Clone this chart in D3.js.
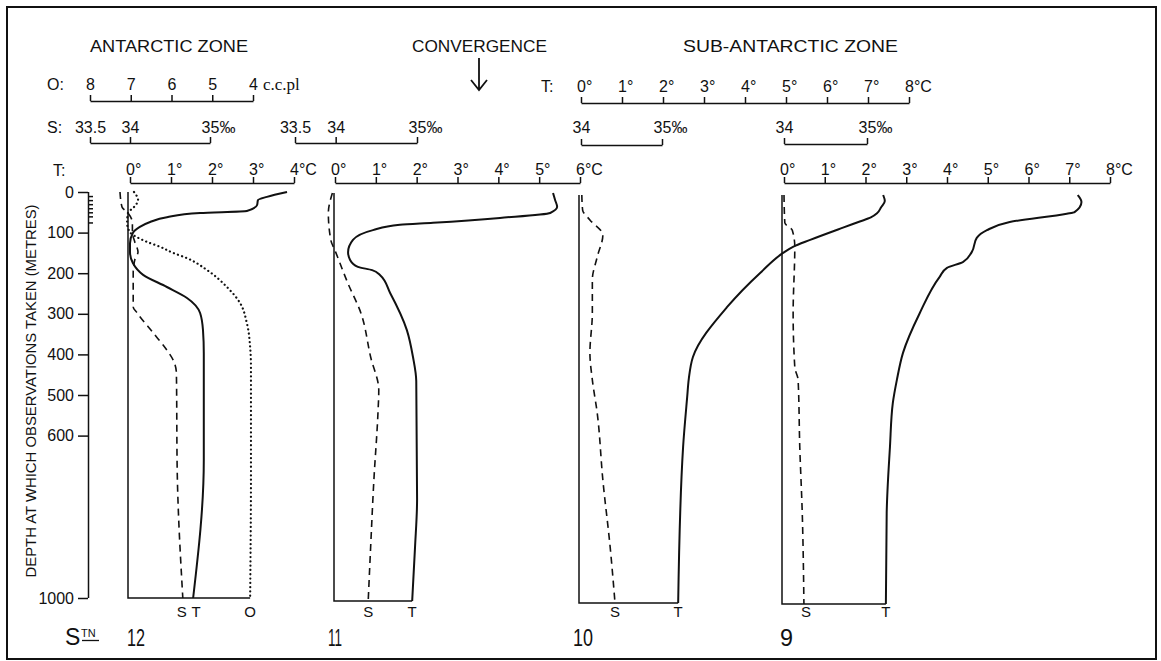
<!DOCTYPE html>
<html><head><meta charset="utf-8">
<script src="https://cdn.jsdelivr.net/npm/d3@7"></script>
<style>
body{margin:0;background:#fff;}
svg{display:block;font-family:"Liberation Sans",Arial,sans-serif;}
.ax path,.ax line{stroke:#111;stroke-width:1.5;fill:none;}
.ax text{font-size:16px;fill:#111;font-family:"Liberation Sans",Arial,sans-serif;}
text{fill:#111;}
</style></head><body>
<svg id="c" width="1161" height="661"></svg>
<script>
// ---------------- DATA ----------------
const stations = ["12", "11", "10", "9"];
const depthTicks = [0, 100, 200, 300, 400, 500, 600, 1000];
const depthMinorTicks = [10, 20, 30, 40, 50, 60, 75];
const oxygenTicks = [8, 7, 6, 5, 4];
const salTicksWide = [33.5, 34, 35];
const salTicksNarrow = [34, 35];
const tempTicks4 = [0, 1, 2, 3, 4];
const tempTicks6 = [0, 1, 2, 3, 4, 5, 6];
const tempTicks8 = [0, 1, 2, 3, 4, 5, 6, 7, 8];

// Station 12
const st12TDepth = [0, 12, 20, 32, 47, 52, 62, 74, 86, 101, 126, 148, 175, 204, 234, 261, 298, 340, 397, 660, 1000];
const st12T      = [3.83, 3.34, 3.12, 3.1, 2.85, 1.71, 0.9, 0.49, 0.24, 0.07, 0, 0, 0.07, 0.32, 0.9, 1.39, 1.71, 1.78, 1.8, 1.8, 1.54];
const st12SDepth = [0, 37, 52, 76, 99, 123, 148, 167, 200, 283, 298, 347, 389, 414, 446, 685, 1000];
const st12S      = [33.875, 33.9, 33.975, 34.03, 34.03, 34.06, 34.1, 34.06, 34.04, 34.04, 34.09, 34.29, 34.46, 34.54, 34.58, 34.59, 34.66];
const st12ODepth = [0, 20, 37, 52, 76, 99, 111, 123, 135, 150, 163, 192, 234, 273, 323, 382, 431, 685, 1000];
const st12O      = [6.92, 6.82, 6.92, 7.07, 7.09, 7.02, 6.85, 6.6, 6.28, 5.96, 5.62, 5.13, 4.64, 4.32, 4.15, 4.07, 4.05, 4.05, 4.07];

// Station 11
const st11TDepth = [0, 17, 34, 49, 61, 73, 78, 91, 115, 145, 164, 181, 189, 201, 245, 336, 402, 461, 752, 868, 1000];
const st11T      = [5.34, 5.39, 5.44, 5.27, 4.04, 2.4, 1.59, 0.93, 0.44, 0.32, 0.37, 0.56, 0.91, 1.1, 1.35, 1.76, 1.91, 1.99, 2.01, 1.96, 1.89];
const st11SDepth = [0, 49, 115, 145, 221, 294, 402, 483, 539, 703, 868, 1000];
const st11S      = [33.96, 33.91, 33.94, 34.0, 34.15, 34.31, 34.43, 34.53, 34.52, 34.47, 34.43, 34.4];

// Station 10
const st10TDepth = [0, 15, 30, 45, 55, 65, 80, 110, 127, 142, 191, 275, 397, 450, 495, 618, 1000];
const st10T      = [7.37, 7.41, 7.32, 7.22, 7.07, 6.8, 6.39, 5.59, 5.17, 4.93, 4.37, 3.56, 2.73, 2.63, 2.59, 2.49, 2.37];
const st10SDepth = [0, 37, 61, 98, 152, 208, 289, 387, 453, 534, 699, 863, 1000];
const st10S      = [34.01, 34.02, 34.11, 34.27, 34.2, 34.14, 34.14, 34.11, 34.14, 34.2, 34.27, 34.36, 34.42];

// Station 9
const st9TDepth = [0, 17, 42, 46, 66, 86, 105, 139, 164, 178, 200, 289, 386, 452, 509, 616, 778, 1000];
const st9T      = [7.21, 7.3, 7.13, 6.94, 5.54, 4.98, 4.73, 4.61, 4.39, 4.0, 3.82, 3.33, 2.92, 2.77, 2.67, 2.6, 2.52, 2.5];
const st9SDepth = [0, 68, 86, 127, 289, 421, 452, 616, 778, 1000];
const st9S      = [34.0, 34.01, 34.1, 34.13, 34.11, 34.13, 34.17, 34.19, 34.22, 34.24];

// ---------------- LAYOUT ----------------
const svg = d3.select("#c");
const W = 1161, H = 661;
svg.append("rect").attr("width", W).attr("height", H).attr("fill", "#fff");
svg.append("rect").attr("x", 7).attr("y", 7).attr("width", 1149).attr("height", 652)
  .attr("fill", "none").attr("stroke", "#111").attr("stroke-width", 2);

// scales
const y12 = d3.scaleLinear([0, 1000], [192, 598]);
const y11 = d3.scaleLinear([0, 1000], [193, 601]);
const y10 = d3.scaleLinear([0, 1000], [195, 603]);
const y9  = d3.scaleLinear([0, 1000], [195, 604]);

const x12T = d3.scaleLinear([0, 4], [130, 294]);
const x12S = d3.scaleLinear([33.5, 35], [90, 210]);
const x12O = d3.scaleLinear([8, 4], [90, 253]);
const x11T = d3.scaleLinear([0, 6], [335, 580]);
const x11S = d3.scaleLinear([33.5, 35], [295, 417]);
const x10T = d3.scaleLinear([0, 8], [581, 909]);
const x10S = d3.scaleLinear([34, 35], [581, 662]);
const x9T  = d3.scaleLinear([0, 8], [784, 1110]);
const x9S  = d3.scaleLinear([34, 35], [784, 867]);

// ---------------- TEXT ----------------
function txt(x, y, s, opts = {}) {
  const t = svg.append("text").attr("x", x).attr("y", y).text(s)
    .attr("font-size", opts.size || 16);
  if (opts.anchor) t.attr("text-anchor", opts.anchor);
  if (opts.len) t.attr("textLength", opts.len).attr("lengthAdjust", "spacingAndGlyphs");
  if (opts.family) t.attr("font-family", opts.family);
  if (opts.transform) t.attr("transform", opts.transform);
  return t;
}
txt(90, 52, "ANTARCTIC ZONE", {size: 17, len: 158});
txt(412, 52, "CONVERGENCE", {size: 17, len: 135});
txt(683, 52, "SUB-ANTARCTIC ZONE", {size: 17, len: 215});

// convergence arrow
svg.append("path").attr("d", "M479,58 V90 M471,80 L479,90 L487,80")
  .attr("fill", "none").attr("stroke", "#111").attr("stroke-width", 1.8);

// ---------------- SCALE BARS ----------------
function topAxis(scale, ticks, fmt, suffix, y, pad) {
  const g = svg.append("g").attr("class", "ax").attr("transform", `translate(0,${y})`);
  g.call(d3.axisTop(scale).tickValues(ticks).tickFormat(fmt).tickSize(6).tickSizeOuter(0).tickPadding(pad));
  g.selectAll(".tick text").each(function(d, i) {
    const s = suffix(d, i);
    if (!s) return;
    const w = this.getComputedTextLength();
    d3.select(this).attr("text-anchor", "start").attr("x", -w / 2).append("tspan").text(s);
  });
  return g;
}
const degSuffix = arr => (d, i) => (i === arr.length - 1 ? "°C" : "°");
const salFmt = d => (d === 33.5 ? "33.5" : String(d));
const salSuffix = d => (d === 35 ? "‰" : "");

// Oxygen (station 12)
txt(47, 90, "O:");
topAxis(x12O, oxygenTicks, d => String(d), () => "", 101, 5);
txt(263, 90, "c.c.pl", {size: 17, family: "'Liberation Serif',serif"});

// Salinity bars
txt(47, 133, "S:");
topAxis(x12S, salTicksWide, salFmt, salSuffix, 143, 4);
topAxis(x11S, salTicksWide, salFmt, salSuffix, 143, 4);
topAxis(x10S, salTicksNarrow, salFmt, salSuffix, 145, 6);
topAxis(x9S, salTicksNarrow, salFmt, salSuffix, 144, 5);

// Temperature bars
txt(53, 176, "T:");
topAxis(x12T, tempTicks4, d => String(d), degSuffix(tempTicks4), 183, 2);
topAxis(x11T, tempTicks6, d => String(d), degSuffix(tempTicks6), 183, 2);
txt(541, 92, "T:");
topAxis(x10T, tempTicks8, d => String(d), degSuffix(tempTicks8), 103, 5);
topAxis(x9T, tempTicks8, d => String(d), degSuffix(tempTicks8), 183, 2);

// ---------------- DEPTH AXIS ----------------
const gy = svg.append("g").attr("class", "ax").attr("transform", "translate(88,0)");
gy.call(d3.axisLeft(y12).tickValues(depthTicks).tickFormat(d => String(d)).tickSize(10).tickSizeOuter(0).tickPadding(4));
gy.select(".domain").attr("d", `M0.5,${y12(0)}V${y12(1000)}`);
const gm = svg.append("g").attr("class", "ax").attr("transform", "translate(88,0)");
gm.call(d3.axisRight(y12).tickValues(depthMinorTicks).tickFormat("").tickSize(5).tickSizeOuter(0));
gm.select(".domain").remove();
gm.selectAll("line").attr("stroke-width", 1);

txt(0, 0, "DEPTH AT WHICH OBSERVATIONS TAKEN (METRES)",
  {size: 14, len: 373, anchor: "middle", transform: "translate(36,391) rotate(-90)"});

// ---------------- PROFILES ----------------
const zip = (ds, vs) => ds.map((d, i) => ({d, v: vs[i]}));
function profile(xs, ys, ds, vs, style) {
  const line = d3.line().x(p => xs(p.v)).y(p => ys(p.d)).curve(d3.curveMonotoneY);
  const p = svg.append("path").attr("d", line(zip(ds, vs)))
    .attr("fill", "none").attr("stroke", "#111");
  if (style === "solid") p.attr("stroke-width", 2);
  if (style === "dash") p.attr("stroke-width", 1.6).attr("stroke-dasharray", "7,5");
  if (style === "dot") p.attr("stroke-width", 2.2).attr("stroke-dasharray", "0.1,4.2").attr("stroke-linecap", "round");
}
function box(x0, xEnd, ys) {
  svg.append("path").attr("d", `M${x0},${ys(0)} V${ys(1000)} H${xEnd}`)
    .attr("fill", "none").attr("stroke", "#111").attr("stroke-width", 1.5);
}
function endLabel(x, s) { txt(x, 617, s, {size: 15, anchor: "middle"}); }

// Station 12
box(x12T(0) - 2, x12O(st12O[st12O.length - 1]), y12);
profile(x12S, y12, st12SDepth, st12S, "dash");
profile(x12O, y12, st12ODepth, st12O, "dot");
profile(x12T, y12, st12TDepth, st12T, "solid");
endLabel(x12S(st12S[st12S.length - 1]) - 1, "S");
endLabel(x12T(st12T[st12T.length - 1]) + 3, "T");
endLabel(x12O(st12O[st12O.length - 1]), "O");

// Station 11
box(x11T(0) - 1, x11T(st11T[st11T.length - 1]), y11);
profile(x11S, y11, st11SDepth, st11S, "dash");
profile(x11T, y11, st11TDepth, st11T, "solid");
endLabel(x11S(st11S[st11S.length - 1]), "S");
endLabel(x11T(st11T[st11T.length - 1]), "T");

// Station 10
box(x10T(0) - 2, x10T(st10T[st10T.length - 1]), y10);
profile(x10S, y10, st10SDepth, st10S, "dash");
profile(x10T, y10, st10TDepth, st10T, "solid");
endLabel(x10S(st10S[st10S.length - 1]), "S");
endLabel(x10T(st10T[st10T.length - 1]), "T");

// Station 9
box(x9T(0) - 2, x9T(st9T[st9T.length - 1]), y9);
profile(x9S, y9, st9SDepth, st9S, "dash");
profile(x9T, y9, st9TDepth, st9T, "solid");
endLabel(x9S(st9S[st9S.length - 1]) + 2, "S");
endLabel(x9T(st9T[st9T.length - 1]), "T");

// ---------------- STATION NUMBERS ----------------
txt(65, 645, "S", {size: 23});
txt(81, 637, "TN", {size: 11});
svg.append("line").attr("x1", 82).attr("x2", 99).attr("y1", 640.5).attr("y2", 640.5)
  .attr("stroke", "#111").attr("stroke-width", 1.3);
const stationX = [x12T(0) - 3, x11T(0) - 7, x10T(0) - 8, x9T(0) - 4];
const stationLabelW = [18, 14, 20, 13];
stations.forEach((s, i) => txt(stationX[i], 646, s, {size: 24, len: stationLabelW[i]}));
</script>
</body></html>
